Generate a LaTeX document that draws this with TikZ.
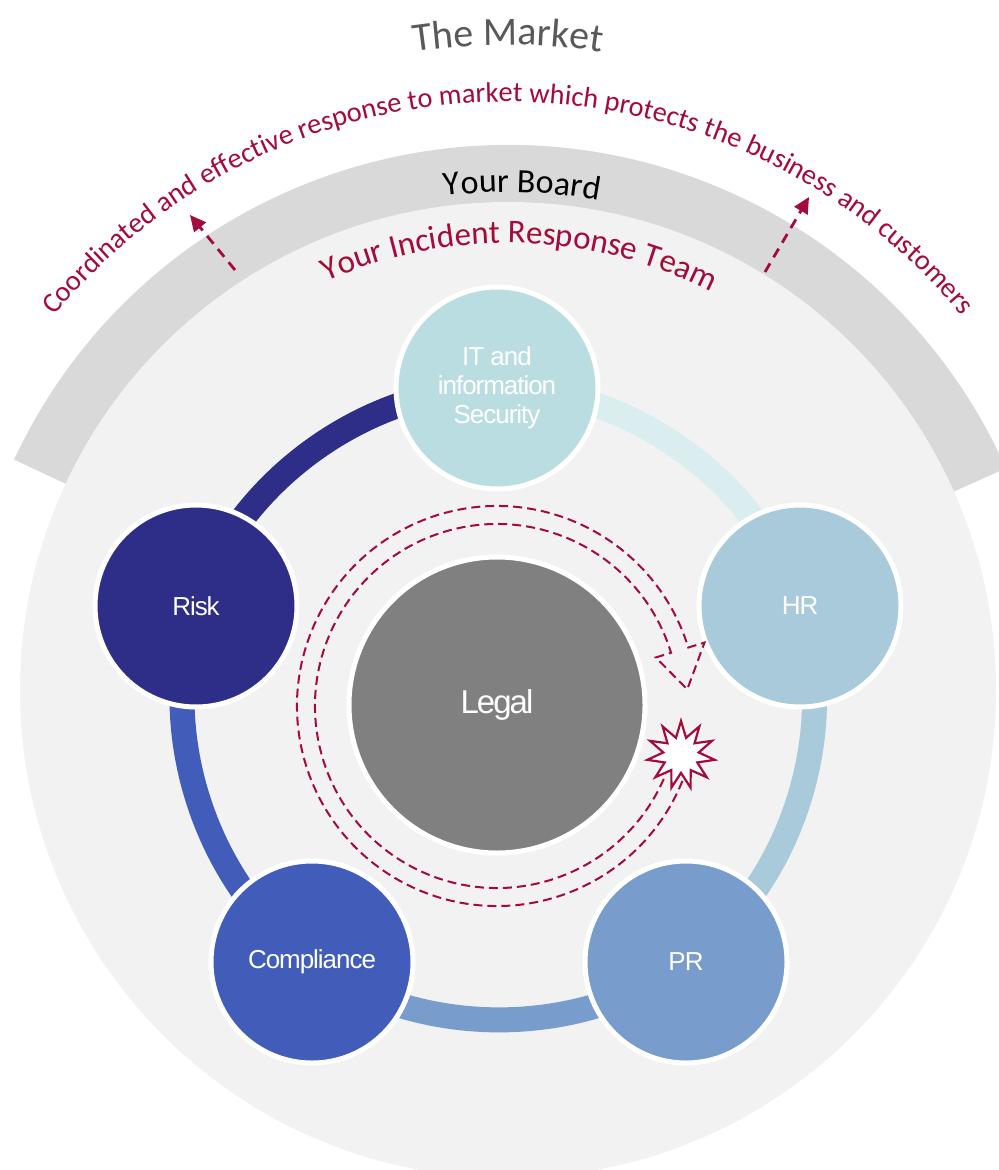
\documentclass[tikz,border=0pt]{standalone}
\usepackage{fontspec}
\setmainfont{Carlito}
\newfontfamily\labelfont[LetterSpace=-4]{Liberation Sans}
\newfontfamily\legalfont[LetterSpace=-6]{Liberation Sans}
\usepackage{tikz}
\usetikzlibrary{calc, positioning}
\usetikzlibrary{arrows.meta, decorations.text, shapes.geometric}

\definecolor{crimson}{HTML}{A40A3A}
\definecolor{ringgray}{HTML}{F2F2F2}
\definecolor{boardgray}{HTML}{D9D9D9}
\definecolor{marketgray}{HTML}{595959}
\definecolor{itcol}{HTML}{BADDE1}
\definecolor{itlight}{HTML}{DAEDEF}
\definecolor{hrcol}{HTML}{A8CADB}
\definecolor{prcol}{HTML}{789CCB}
\definecolor{compcol}{HTML}{415DB9}
\definecolor{riskcol}{HTML}{2E2E88}
\definecolor{legalcol}{HTML}{808080}

\pgfdeclarelayer{back}
\pgfdeclarelayer{links}
\pgfsetlayers{back,links,main}

\begin{document}
\begin{tikzpicture}[x=0.5pt, y=0.5pt,
		team/.style={circle, draw=white, line width=2.5pt, minimum size=101pt, inner sep=0pt, align=center, text=white, font=\labelfont\fontsize{13}{14.5}\selectfont},
		link/.style={line width=12.5pt, bend left=36, looseness=0.9},
		tour/.style={draw=crimson, line width=1pt, dash pattern=on 4.5pt off 2.5pt},
		reach/.style={draw=crimson, line width=1.4pt, dash pattern=on 5pt off 3.5pt, -{Triangle[length=8pt, width=7.5pt]}},
		burst/.style={star, star points=11, star point ratio=1.9, minimum size=34pt, inner sep=0pt, draw=crimson, fill=white, line width=1.1pt},
		arctext/.style={decorate, decoration={text along path, text align=center}}
		]
		\useasboundingbox (0,0) rectangle (999,-1170);
		\coordinate (ctr) at (508,-690);
		\coordinate (hub) at (497,-706);
		
		% Le fond
		\begin{pgfonlayer}{back}
			\fill[boardgray] ($(ctr)+(24:480)$) arc[start angle=24, end angle=155, radius=480]
				-- ($(ctr)+(155:545)$) arc[start angle=155, end angle=24, radius=545] -- cycle;
			\fill[ringgray] (ctr) circle[radius=488];
		\end{pgfonlayer}
		
		% Les textes en arc
		\path[arctext, decoration={text={|\color{marketgray}\fontsize{20}{24}\selectfont|The Market}}]
			($(ctr)+(110:645)$) arc[start angle=110, end angle=70, radius=645];
		\path[arctext, decoration={text={|\color{crimson}\fontsize{14.2}{16}\selectfont|Coordinated and effective response to market which protects the business and customers}}]
			($(ctr)+(168:588)$) arc[start angle=168, end angle=12, radius=588];
		\path[arctext, decoration={text={|\color{black}\fontsize{17}{20}\selectfont|Your Board}}]
			($(ctr)+(108.4:498)$) arc[start angle=108.4, end angle=68.4, radius=498];
		\path[arctext, decoration={text={|\color{crimson}\fontsize{16.5}{19}\selectfont|Your Incident Response Team}}]
			($(ctr)+(128.5:447)$) arc[start angle=128.5, end angle=48.5, radius=447];
		
		% Les fleches vers le marche
		\coordinate (lfoot) at (235,-270);
		\coordinate (ltip) at (190,-215);
		\coordinate (rfoot) at (765,-272);
		\coordinate (rtip) at (809,-197);
		\draw[reach] (lfoot) -- (ltip);
		\draw[reach] (rfoot) -- (rtip);
		
		% Les cercles
		\node[team, fill=itcol] (it) at (497,-388) {IT and\\information\\Security};
		\node[team, fill=hrcol] (hr) at (800,-606) {HR};
		\node[team, fill=prcol] (pr) at (686,-962) {PR};
		\node[team, fill=compcol] (comp) at (312,-962) {Compliance};
		\node[team, fill=riskcol] (risk) at (196,-606) {Risk};
		\node[team, fill=legalcol, minimum size=148pt, font=\legalfont\fontsize{16.5}{19}\selectfont] (legal) at (497,-705) {Legal};
		
		% Les liens
		\begin{pgfonlayer}{links}
			\draw[link, itlight] (it.center) to (hr.center);
			\draw[link, hrcol] (hr.center) to (pr.center);
			\draw[link, prcol] (pr.center) to (comp.center);
			\draw[link, compcol] (comp.center) to (risk.center);
			\draw[link, riskcol] (risk.center) to (it.center);
		\end{pgfonlayer}
		
		% La boucle autour du juridique
		\draw[tour] ($(hub)+(-22:200)$) arc[start angle=-22, end angle=-343, radius=200]
			-- ($(hub)+(-343:217)$) -- ($(hub)+(-355:191)$) -- ($(hub)+(-343:166)$)
			-- ($(hub)+(-343:182)$) arc[start angle=-343, end angle=-22, radius=182];
		\node[burst] (hit) at (681,-755) {};
	\end{tikzpicture}
\end{document}
